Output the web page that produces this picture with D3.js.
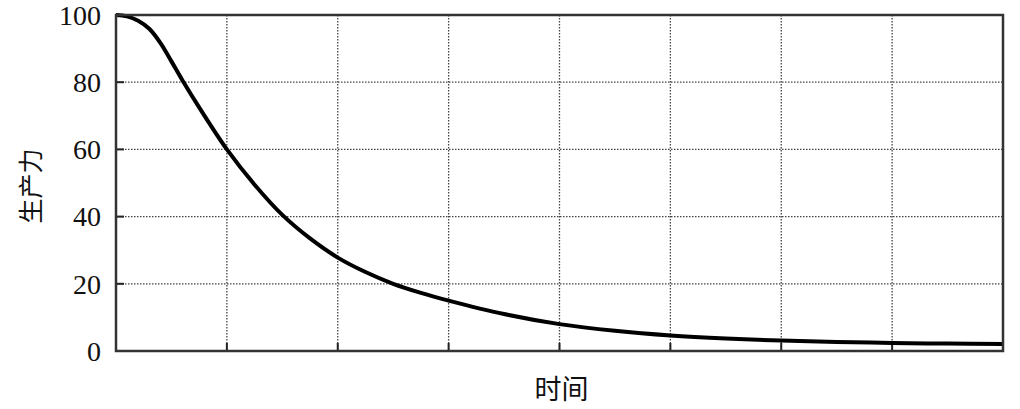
<!DOCTYPE html>
<html><head><meta charset="utf-8">
<script src="https://cdn.jsdelivr.net/npm/d3@7"></script>
<style>body{margin:0;background:#fff}svg{display:block}</style>
</head><body>
<svg id="c" width="1020" height="409"></svg>
<script>
const timeVals = [0,0.1,0.2,0.3,0.4,0.5,0.6,0.75,1.0,1.25,1.5,1.75,2.0,2.25,2.5,2.75,3.0,3.5,4.0,4.5,5.0,5.5,6.0,6.5,7.0,7.5,8.0];
const prodVals = [100,99.6,98.3,95.9,91.7,86.2,80.5,72.5,60,49.5,40.5,33.5,27.8,23.5,20.0,17.3,15.0,11.0,8.0,6.0,4.6,3.7,3.1,2.7,2.4,2.2,2.1];
const yTicks = [0,20,40,60,80,100];
const xTicks = [0,1,2,3,4,5,6,7,8];
const yLabel = "生产力";
const xLabel = "时间";

const svg = d3.select("#c");
const L=116, R=1003, T=15, B=351;
const x = d3.scaleLinear().domain([0,8]).range([L,R]);
const y = d3.scaleLinear().domain([0,100]).range([B,T]);

// grid
svg.append("g").selectAll("line").data(yTicks.filter(d=>d>0&&d<100)).join("line")
  .attr("x1",L).attr("x2",R).attr("y1",d=>y(d)).attr("y2",d=>y(d))
  .attr("stroke","#444").attr("stroke-width",1.3).attr("stroke-dasharray","1.5,1.5");
svg.append("g").selectAll("line").data(xTicks.filter(d=>d>0&&d<8)).join("line")
  .attr("y1",T).attr("y2",B).attr("x1",d=>x(d)).attr("x2",d=>x(d))
  .attr("stroke","#444").attr("stroke-width",1.3).attr("stroke-dasharray","1.5,1.5");

// ticks
svg.append("g").selectAll("line").data(yTicks).join("line")
  .attr("x1",L).attr("x2",L+8).attr("y1",d=>y(d)).attr("y2",d=>y(d))
  .attr("stroke","#222").attr("stroke-width",2);
svg.append("g").selectAll("line").data(xTicks).join("line")
  .attr("y1",B).attr("y2",B-8).attr("x1",d=>x(d)).attr("x2",d=>x(d))
  .attr("stroke","#222").attr("stroke-width",2);

// curve
const line = d3.line().x((d,i)=>x(timeVals[i])).y(d=>y(d)).curve(d3.curveCatmullRom.alpha(0.5));
svg.append("path").datum(prodVals).attr("d",line)
  .attr("fill","none").attr("stroke","#000").attr("stroke-width",4).attr("stroke-linejoin","round");

// frame
svg.append("rect").attr("x",L).attr("y",T).attr("width",R-L).attr("height",B-T)
  .attr("fill","none").attr("stroke","#333").attr("stroke-width",2.5);

// y tick labels
svg.append("g").selectAll("text").data(yTicks).join("text")
  .attr("x",L-15).attr("y",d=>y(d)).attr("dy","0.35em").attr("text-anchor","end")
  .attr("font-family","Liberation Serif, serif").attr("font-size",28).attr("fill","#111")
  .text(d=>d);

// axis labels
svg.append("text").attr("transform",`translate(31,${(T+B)/2+3}) rotate(-90)`)
  .attr("text-anchor","middle").attr("dy","0.35em")
  .attr("font-family","Noto Sans CJK SC").attr("font-size",25).attr("fill","#111").text(yLabel);
svg.append("text").attr("x",(L+R)/2+2).attr("y",390).attr("dy","0.35em").attr("text-anchor","middle")
  .attr("font-family","Noto Sans CJK SC").attr("font-size",27).attr("fill","#111").text(xLabel);
</script>
</body></html>
